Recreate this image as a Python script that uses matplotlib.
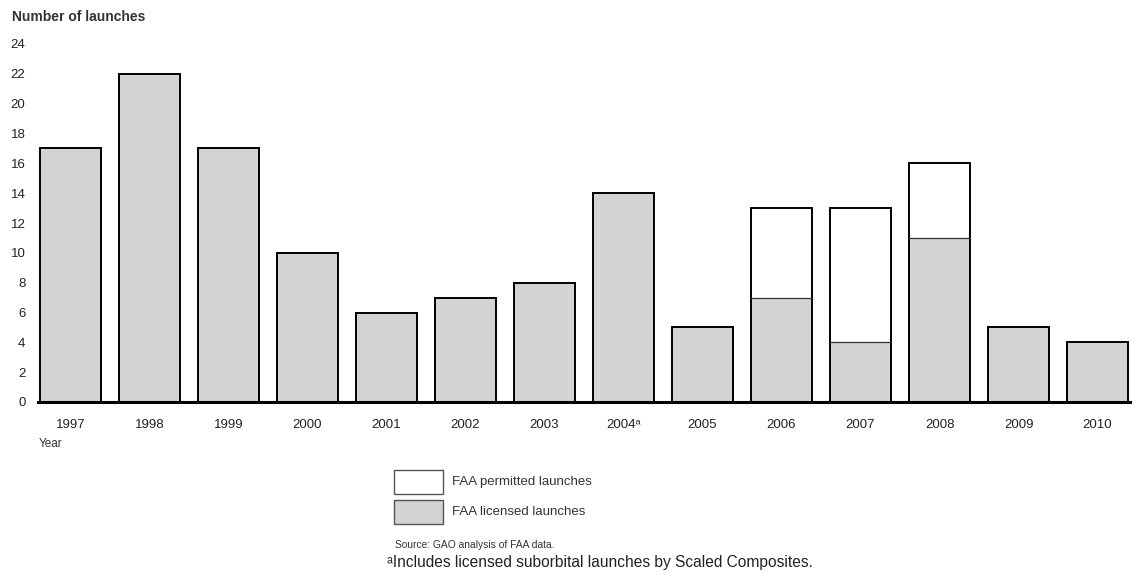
import matplotlib
matplotlib.use("Agg")
import matplotlib.pyplot as plt
from matplotlib.patches import Rectangle

plt.rcParams['font.family'] = ['Liberation Sans', 'DejaVu Sans']

years = ["1997", "1998", "1999", "2000", "2001", "2002", "2003", "2004\u1d43",
         "2005", "2006", "2007", "2008", "2009", "2010"]
licensed = [17, 22, 17, 10, 6, 7, 8, 14, 5, 7, 4, 11, 5, 4]
permitted = [0, 0, 0, 0, 0, 0, 0, 0, 0, 6, 9, 5, 0, 0]
yticks = list(range(0, 25, 2))

W, H = 1135, 581
fig = plt.figure(figsize=(W / 100, H / 100), dpi=100)
ax = fig.add_axes([38 / W, 1 - 402 / H, (1130 - 38) / W, (402 - 44) / H])

gray = "#d3d3d3"
x = list(range(len(years)))
bw = 0.78
ax.bar(x, licensed, width=bw, color=gray, edgecolor="none", zorder=2)
ax.bar(x, permitted, width=bw, bottom=licensed, color="white", edgecolor="none", zorder=2)
# outlines
tot = [l + p for l, p in zip(licensed, permitted)]
ax.bar(x, tot, width=bw, fill=False, edgecolor="black", linewidth=1.4, zorder=3)
for xi, l, p in zip(x, licensed, permitted):
    if p > 0:
        ax.plot([xi - bw / 2, xi + bw / 2], [l, l], color="#333333", lw=0.9, zorder=3)

ax.set_xlim(-0.41, 13.41)
ax.set_ylim(0, 24)
ax.set_yticks(yticks)
ax.set_yticklabels([str(v) for v in yticks], fontsize=9.5, color="#222222")
ax.set_xticks(x)
ax.set_xticklabels(years, fontsize=9.5, color="#222222")
ax.tick_params(axis="both", length=0)
ax.tick_params(axis="x", pad=12)
ax.tick_params(axis="y", pad=9)
for s in ["top", "right", "left"]:
    ax.spines[s].set_visible(False)
ax.spines["bottom"].set_linewidth(2.2)
ax.spines["bottom"].set_zorder(4)

fig.text(12 / W, 1 - 17 / H, "Number of launches", fontsize=10, fontweight="bold",
         color="#333333", va="center", ha="left")
fig.text(39 / W, 1 - 444 / H, "Year", fontsize=8.5, color="#333333", va="center", ha="left")

# legend
for y0, fc, lab in [(470, "white", "FAA permitted launches"), (500, gray, "FAA licensed launches")]:
    r = Rectangle((394 / W, 1 - (y0 + 24) / H), 49 / W, 24 / H, transform=fig.transFigure,
                  facecolor=fc, edgecolor="#555555", linewidth=1.0)
    fig.add_artist(r)
    fig.text(452 / W, 1 - (y0 + 12) / H, lab, fontsize=9.5, color="#333333", va="center", ha="left")

fig.text(395 / W, 1 - 545 / H, "Source: GAO analysis of FAA data.", fontsize=7.4,
         color="#333333", va="center", ha="left")
fig.text(387 / W, 1 - 563 / H, "\u1d43Includes licensed suborbital launches by Scaled Composites.",
         fontsize=11.2, color="#222222", va="center", ha="left")

fig.savefig("out.png", dpi=100, facecolor="white")
